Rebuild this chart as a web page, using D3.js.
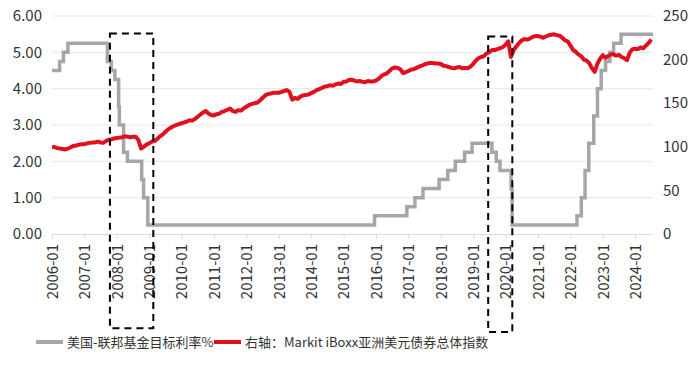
<!DOCTYPE html>
<html><head><meta charset="utf-8">
<script src="https://cdn.jsdelivr.net/npm/d3@7"></script>
<style>
html,body{margin:0;padding:0;background:#fff;}
svg{display:block;font-family:"Noto Sans CJK SC","Noto Sans",sans-serif;}
</style></head><body>
<svg id="c" width="700" height="366"></svg>
<script>
// ---- data ----
const leftTicks = [0, 1, 2, 3, 4, 5, 6];
const rightTicks = [0, 50, 100, 150, 200, 250];
const xTickYears = d3.range(2006, 2025);
const seriesNames = ["美国-联邦基金目标利率%", "右轴：Markit iBoxx亚洲美元债券总体指数"];

// Fed funds target (upper bound) change dates and levels
const fedDates = ["2006-01-01","2006-03-28","2006-05-10","2006-06-29","2007-09-18","2007-10-31","2007-12-11",
  "2008-01-22","2008-01-30","2008-03-18","2008-04-30","2008-10-08","2008-10-29","2008-12-16",
  "2015-12-16","2016-12-14","2017-03-15","2017-06-14","2017-12-13","2018-03-21","2018-06-13",
  "2018-09-26","2018-12-19","2019-07-31","2019-09-18","2019-10-30","2020-03-03","2020-03-15",
  "2022-03-16","2022-05-04","2022-06-15","2022-07-27","2022-09-21","2022-11-02","2022-12-14",
  "2023-02-01","2023-03-22","2023-05-03","2023-07-26","2024-07-20"];
const fedRates = [4.50,4.75,5.00,5.25,4.75,4.50,4.25,
  3.50,3.00,2.25,2.00,1.50,1.00,0.25,
  0.50,0.75,1.00,1.25,1.50,1.75,2.00,
  2.25,2.50,2.25,2.00,1.75,1.25,0.25,
  0.50,1.00,1.75,2.50,3.25,4.00,4.50,
  4.75,5.00,5.25,5.50,5.50];

// iBoxx Asia USD index, monthly from 2006-01
const iboxxStart = "2006-01";
const iboxx = [
 100,99.5,98.5,98,97.5,97,98,99.5,101,101.5,102.5,103,
 103,104,104.5,105,105,106,105,104.5,106.5,108,108.5,109.5,
 110,110.5,111,112,111.5,111,111.5,111.5,108,98,100,102.5,
 104,106,106.5,109,112,114,117,120,122,123.5,125,126,
 127,128,129,130.5,130,132,134.5,137,139.5,141,138,136.5,
 136,137.5,138,140,141,142.5,144,141,140,142,141.5,144,
 146,148,149,150,150.5,153,156,159,160.5,161,162,162,
 162,163,164,165,163,154,156,155,157.5,159,159.5,160,
 161.5,163,165,166,167.5,169,169.5,170.5,170,171.5,172.5,172,
 174.5,175,176.5,177,176,175,175.5,174.5,174,175.5,175,175,
 176,178,181,183,184,187,190,191,190.5,189,184.5,185.5,
 187,188.5,189,190.5,192,193,194.5,195.5,196,196,195.5,195.5,
 195,193,192.5,191.5,190.5,190,191,191.5,190,190.5,190,192,
 195,199,201.5,203,204,207,208.5,211,211,212,213,214.5,
 217,221,203,211,215,219,222,223.5,223,224,226,227,
 227,226,225,226.5,228,228.5,229,228,227.5,225,222,221,
 216,211,209,206,204,200,199,196,190,186,195,201,
 205,202,204,206,206,204.5,205.5,203,201.5,199.5,208,212,
 212.5,212,214,213,216,219,223
];

// dashed highlight boxes: [start date, end date, top (right-axis value), bottom (right-axis value)]
const boxStarts = ["2007-10-16","2019-06-19"];
const boxEnds   = ["2009-02-16","2020-03-17"];
const boxTops   = [230, 226.5];
const boxBottoms= [-108, -112.5];

// ---- chart ----
const parse = d3.utcParse("%Y-%m-%d");
const svg = d3.select("#c");
const x0 = 52, x1 = 653, yTop = 16, yBot = 234;
const x = d3.scaleUtc().domain([parse("2006-01-01"), parse("2024-07-20")]).range([x0, x1]);
const yL = d3.scaleLinear().domain([0, 6]).range([yBot, yTop]);
const yR = d3.scaleLinear().domain([0, 250]).range([yBot, yTop]);

const textColor = "#333";
// gridlines
svg.append("g").selectAll("line").data(leftTicks.filter(d => d > 0)).join("line")
  .attr("x1", x0).attr("x2", x1).attr("y1", d => yL(d)).attr("y2", d => yL(d))
  .attr("stroke", "#e6e6e6").attr("stroke-width", 1);

// left axis labels
svg.append("g").selectAll("text").data(leftTicks).join("text")
  .attr("x", 42).attr("y", d => yL(d)).attr("dy", "0.35em")
  .attr("text-anchor", "end").attr("font-size", 15).attr("fill", textColor)
  .text(d => d.toFixed(2));
// right axis labels
svg.append("g").selectAll("text").data(rightTicks).join("text")
  .attr("x", 663).attr("y", d => yR(d)).attr("dy", "0.35em")
  .attr("text-anchor", "start").attr("font-size", 15).attr("fill", textColor)
  .text(d => d);

// x axis
const xTicks = xTickYears.map(y => parse(y + "-01-01"));
const xAxis = d3.axisBottom(x).tickValues(xTicks).tickSize(5).tickSizeOuter(0)
  .tickFormat(d3.utcFormat("%Y-%m"));
const gx = svg.append("g").attr("transform", `translate(0,${yBot})`).call(xAxis);
gx.select(".domain").attr("stroke", "#d9d9d9").attr("stroke-width", 1);
gx.selectAll(".tick line").attr("stroke", "#d9d9d9");
gx.selectAll(".tick text")
  .attr("font-size", 15).attr("fill", textColor)
  .attr("font-family", '"Noto Sans CJK SC","Noto Sans",sans-serif')
  .attr("text-anchor", "end").attr("transform", "rotate(-90)")
  .attr("x", -10).attr("y", 0).attr("dy", "0.35em");

// fed line
const fedData = fedDates.map((d, i) => ({ d: parse(d), v: fedRates[i] }));
svg.append("path").datum(fedData)
  .attr("fill", "none").attr("stroke", "#a6a6a6").attr("stroke-width", 3.5)
  .attr("d", d3.line().x(d => x(d.d)).y(d => yL(d.v)).curve(d3.curveStepAfter));

// iboxx line
const startD = parse(iboxxStart + "-01");
const iboxxData = iboxx.map((v, i) => ({ d: d3.utcMonth.offset(startD, i), v }));
svg.append("path").datum(iboxxData)
  .attr("fill", "none").attr("stroke", "#e0101e").attr("stroke-width", 4)
  .attr("stroke-linejoin", "round")
  .attr("d", d3.line().x(d => x(d.d)).y(d => yR(d.v)));

// dashed boxes
svg.append("g").selectAll("rect").data(boxStarts).join("rect")
  .attr("x", (d, i) => x(parse(d)))
  .attr("y", (d, i) => yR(boxTops[i]))
  .attr("width", (d, i) => x(parse(boxEnds[i])) - x(parse(d)))
  .attr("height", (d, i) => yR(boxBottoms[i]) - yR(boxTops[i]))
  .attr("fill", "none").attr("stroke", "#000").attr("stroke-width", 2)
  .attr("stroke-dasharray", "7,5");

// legend
const lg = svg.append("g");
const legendColors = ["#a6a6a6", "#e0101e"];
const legX = [36, 214];
seriesNames.forEach((n, i) => {
  lg.append("line").attr("x1", legX[i]).attr("x2", legX[i] + 27).attr("y1", 342).attr("y2", 342)
    .attr("stroke", legendColors[i]).attr("stroke-width", 4);
  lg.append("text").attr("x", legX[i] + 31).attr("y", 342).attr("dy", "0.35em")
    .attr("font-size", 13).attr("fill", textColor).text(n);
});
</script>
</body></html>
